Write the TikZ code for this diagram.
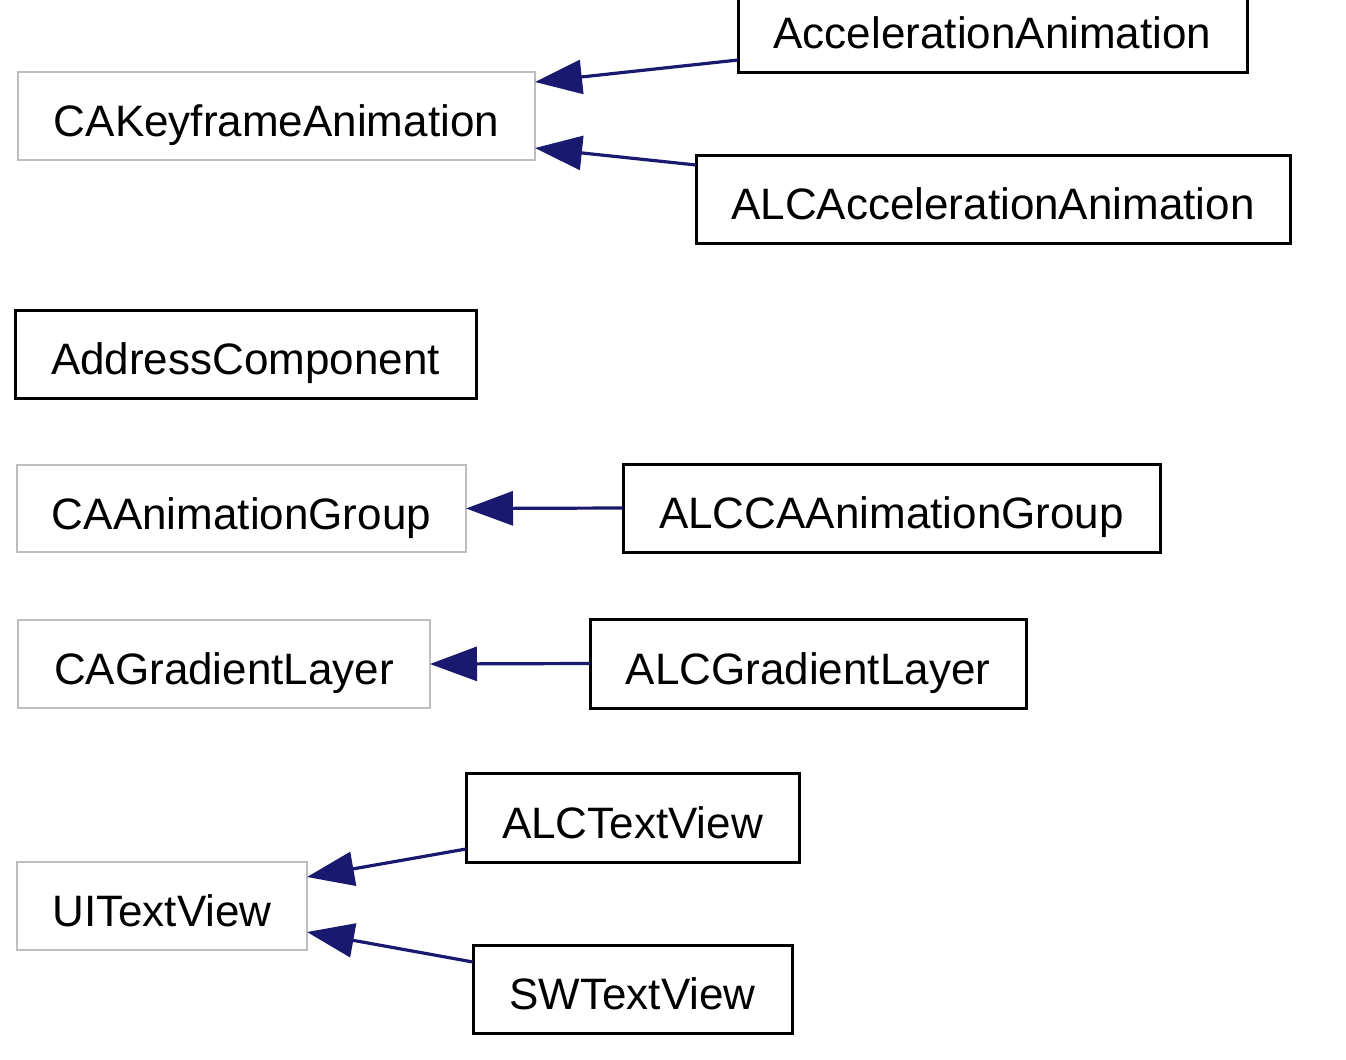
\documentclass[tikz,border=0pt]{standalone}
\usepackage{fontspec}
\setmainfont{Liberation Sans}
\usetikzlibrary{arrows.meta}
\definecolor{edgeblue}{HTML}{191970}
\definecolor{boxgray}{HTML}{BEBEBE}
\tikzset{
  cls/.style={rectangle, inner sep=0pt, outer sep=0pt, align=center,
    font=\fontsize{22}{26}\selectfont, text height=20.5pt, text depth=0pt, fill=white},
  ext/.style={cls, draw=boxgray, line width=1.4pt},
  own/.style={cls, draw=black, line width=1.5pt},
  inh/.style={draw=edgeblue, line width=1.6pt, -{Triangle[length=23.5pt,width=17pt]}, shorten >=0pt},
}
\begin{document}
\begin{tikzpicture}[x=0.5pt,y=-0.5pt]
\useasboundingbox (0,0) rectangle (1346,1060);
\node[ext, minimum width=258.5pt, minimum height=44pt] (kf) at (276.5,116) {CAKeyframeAnimation};
\node[own, minimum width=254.5pt, minimum height=44pt] (acc) at (992.5,28) {AccelerationAnimation};
\node[own, minimum width=297pt, minimum height=44pt] (alcacc) at (993,199) {ALCAccelerationAnimation};
\node[own, minimum width=230.5pt, minimum height=44pt] (addr) at (245.5,354) {AddressComponent};
\node[ext, minimum width=224.5pt, minimum height=43.5pt] (grp) at (241.5,508.5) {CAAnimationGroup};
\node[own, minimum width=268.5pt, minimum height=44pt] (alcgrp) at (891.5,508) {ALCCAAnimationGroup};
\node[ext, minimum width=206pt, minimum height=44pt] (grad) at (224,664) {CAGradientLayer};
\node[own, minimum width=218pt, minimum height=44.5pt] (alcgrad) at (808,663.5) {ALCGradientLayer};
\node[own, minimum width=166.5pt, minimum height=44.5pt] (alctv) at (632.5,817.5) {ALCTextView};
\node[ext, minimum width=145pt, minimum height=44pt] (uitv) at (162,906) {UITextView};
\node[own, minimum width=159.5pt, minimum height=44pt] (swtv) at (632.5,989) {SWTextView};

\draw[inh] ([yshift=-16pt]acc.west) -- ([yshift=17pt]kf.east);
\draw[inh] ([yshift=17pt]alcacc.west) -- ([yshift=-16pt]kf.east);
\draw[inh] (alcgrp.west) -- (grp.east);
\draw[inh] (alcgrad.west) -- (grad.east);
\draw[inh] ([yshift=-15.75pt]alctv.west) -- ([yshift=14.5pt]uitv.east);
\draw[inh] ([yshift=13.5pt]swtv.west) -- ([yshift=-13pt]uitv.east);
\end{tikzpicture}
\end{document}
